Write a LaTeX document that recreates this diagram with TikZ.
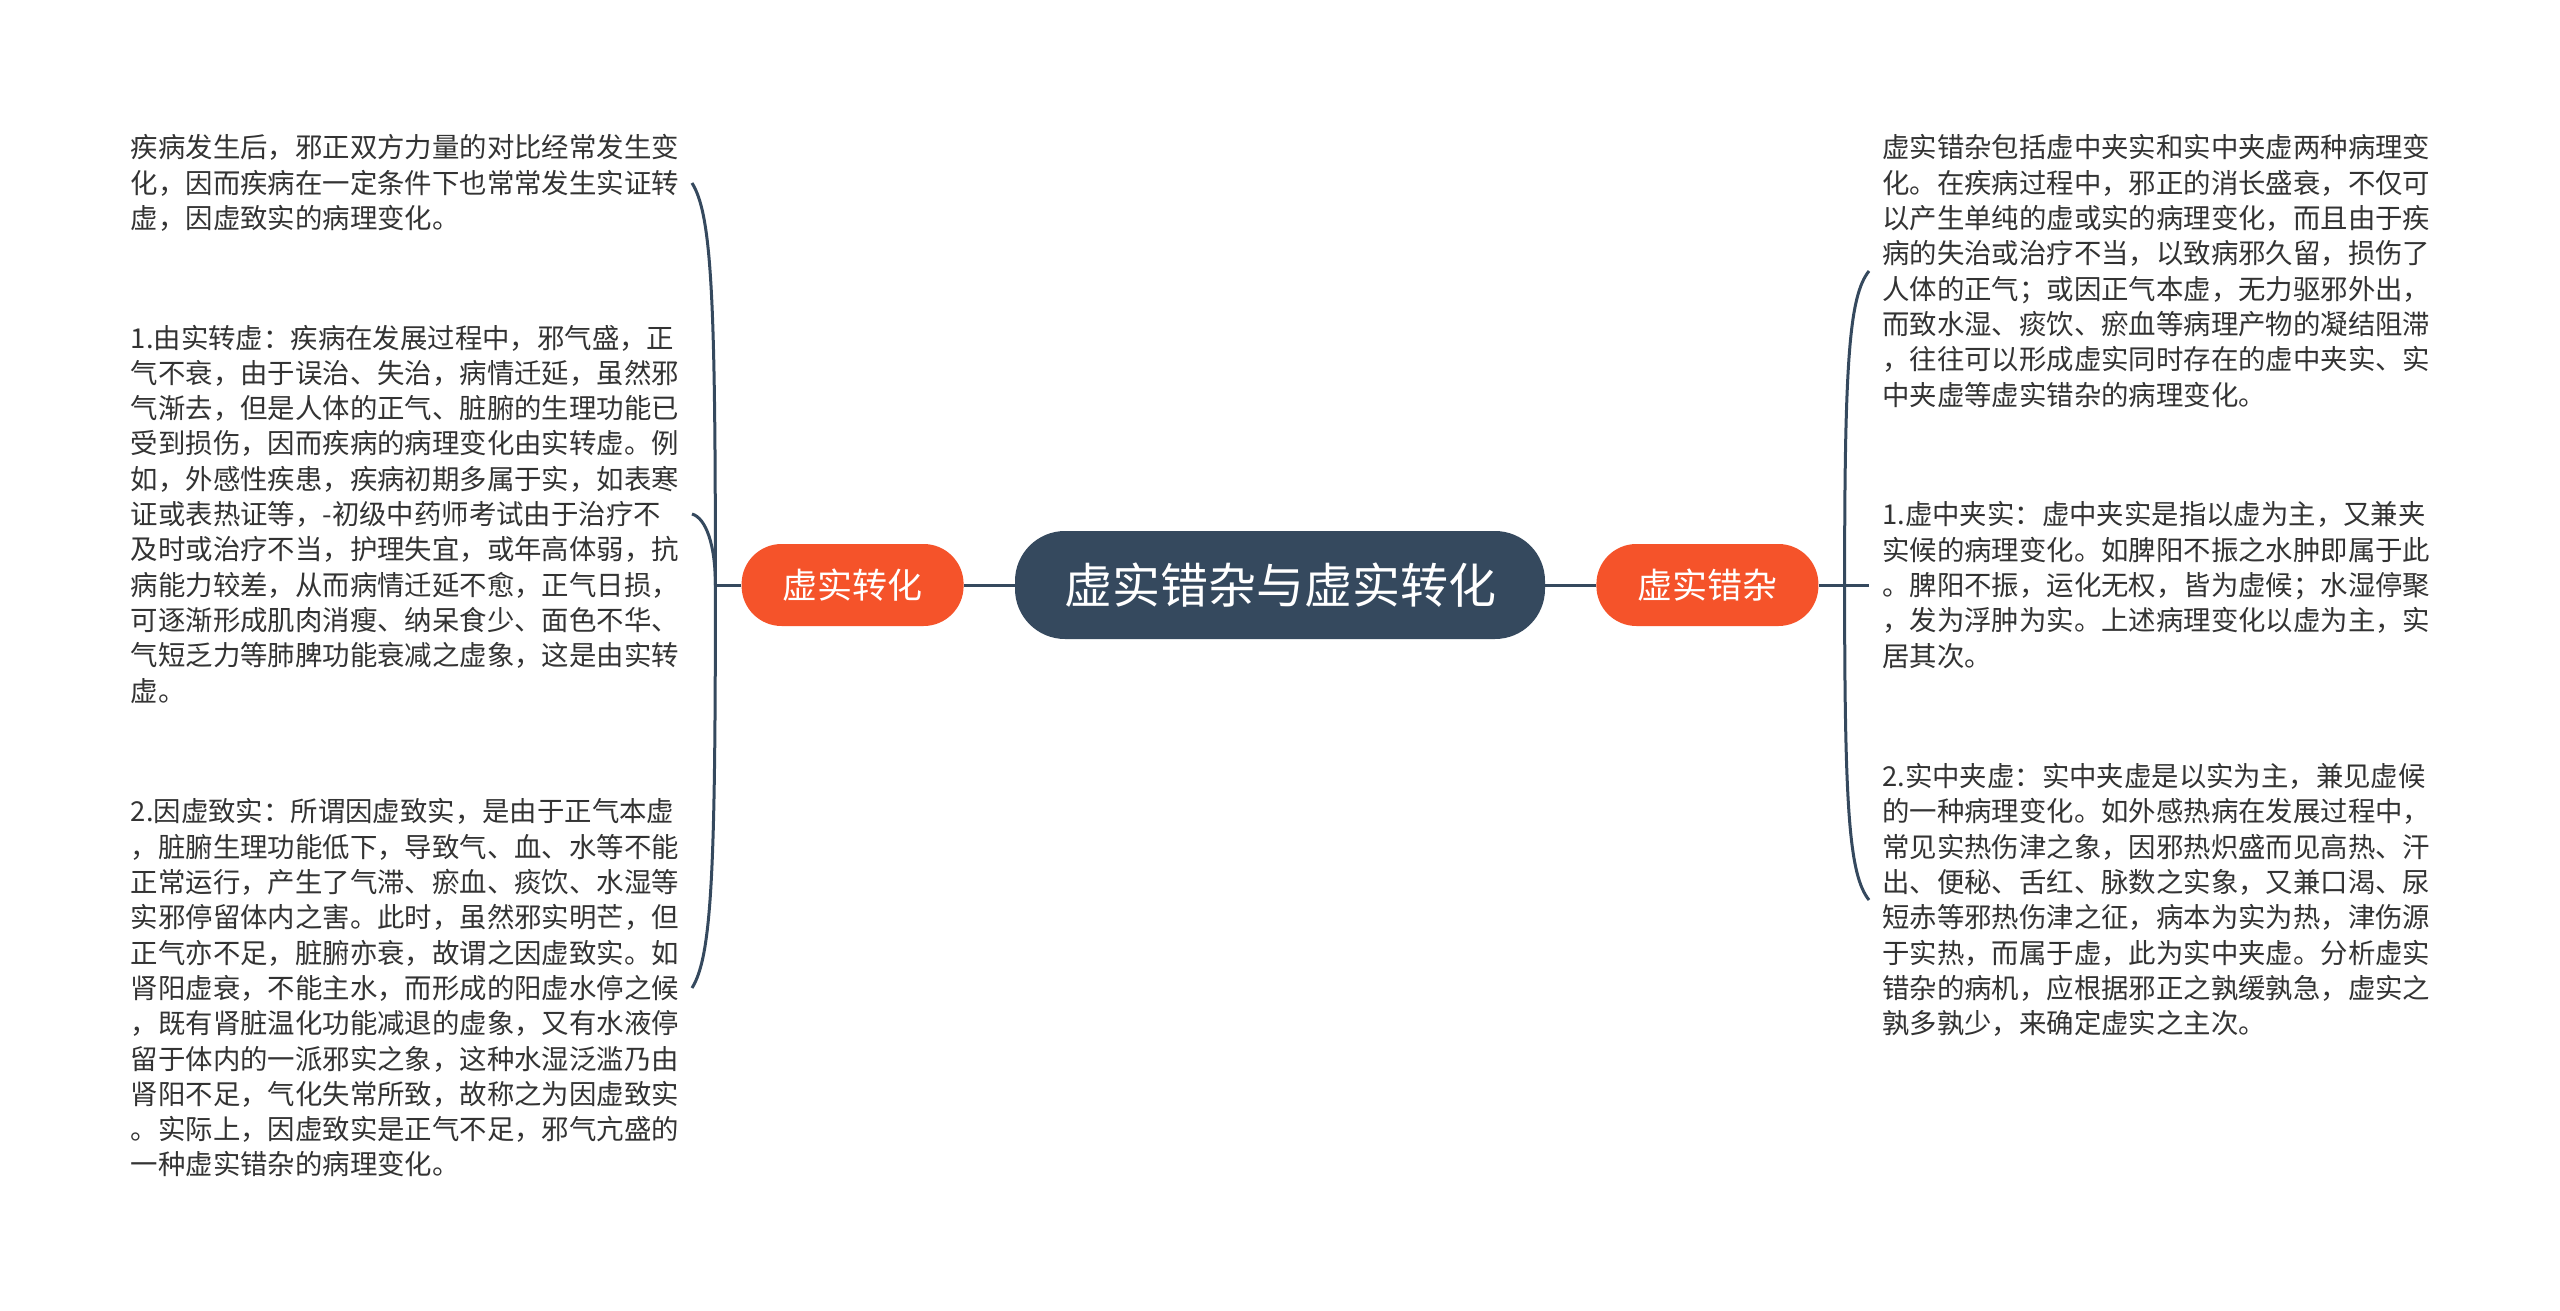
\documentclass[tikz,border=0pt]{standalone}
\usepackage{fontspec}
\setmainfont{Noto Sans CJK SC}
\usepackage{tikz}
\usetikzlibrary{positioning}
\definecolor{xsdark}{RGB}{53,73,94}
\definecolor{xsorange}{RGB}{245,83,42}
\definecolor{xstext}{RGB}{51,51,51}
\tikzset{
  rootbox/.style={
    rectangle, rounded corners=50pt, fill=xsdark, text=white,
    minimum width=530pt, minimum height=108pt,
    font=\fontsize{48}{56}\selectfont
  },
  branchbox/.style={
    rectangle, rounded corners=40pt, fill=xsorange, text=white,
    minimum width=222pt, minimum height=82pt,
    font=\fontsize{35}{42}\selectfont
  },
  leaftext/.style={
    rectangle, inner xsep=13pt, inner ysep=0pt, align=left,
    text=xstext, font=\fontsize{27.4}{35.3}\selectfont
  },
  link/.style={draw=xsdark, line width=3pt}
}

\begin{document}
\begin{tikzpicture}[x=1pt, y=-1pt]
  \fill[white] (0,0) rectangle (2560,1311);
  \useasboundingbox (0,0) rectangle (2560,1311);

  \node[rootbox] (root) at (1280,585) {虚实错杂与虚实转化};
  \node[branchbox, left=51pt of root] (zhuanhua) {虚实转化};
  \node[branchbox, right=51pt of root] (cuoza) {虚实错杂};
  \coordinate[left=26pt of zhuanhua.west] (lj);
  \coordinate[right=26pt of cuoza.east] (rj);

  % left leaves
  \node[leaftext, anchor=east] (lt) at (692,183)
    {疾病发生后，邪正双方力量的对比经常发生变\\
     化，因而疾病在一定条件下也常常发生实证转\\
     虚，因虚致实的病理变化。};
  \node[leaftext, anchor=east] (lm) at (692,514)
    {1.由实转虚：疾病在发展过程中，邪气盛，正\\
     气不衰，由于误治、失治，病情迁延，虽然邪\\
     气渐去，但是人体的正气、脏腑的生理功能已\\
     受到损伤，因而疾病的病理变化由实转虚。例\\
     如，外感性疾患，疾病初期多属于实，如表寒\\
     证或表热证等，-初级中药师考试由于治疗不\\
     及时或治疗不当，护理失宜，或年高体弱，抗\\
     病能力较差，从而病情迁延不愈，正气日损，\\
     可逐渐形成肌肉消瘦、纳呆食少、面色不华、\\
     气短乏力等肺脾功能衰减之虚象，这是由实转\\
     虚。};
  \node[leaftext, anchor=east] (lb) at (692,988)
    {2.因虚致实：所谓因虚致实，是由于正气本虚\\
     ，脏腑生理功能低下，导致气、血、水等不能\\
     正常运行，产生了气滞、瘀血、痰饮、水湿等\\
     实邪停留体内之害。此时，虽然邪实明芒，但\\
     正气亦不足，脏腑亦衰，故谓之因虚致实。如\\
     肾阳虚衰，不能主水，而形成的阳虚水停之候\\
     ，既有肾脏温化功能减退的虚象，又有水液停\\
     留于体内的一派邪实之象，这种水湿泛滥乃由\\
     肾阳不足，气化失常所致，故称之为因虚致实\\
     。实际上，因虚致实是正气不足，邪气亢盛的\\
     一种虚实错杂的病理变化。};

  % right leaves
  \node[leaftext, anchor=west] (rt) at (1869,271)
    {虚实错杂包括虚中夹实和实中夹虚两种病理变\\
     化。在疾病过程中，邪正的消长盛衰，不仅可\\
     以产生单纯的虚或实的病理变化，而且由于疾\\
     病的失治或治疗不当，以致病邪久留，损伤了\\
     人体的正气；或因正气本虚，无力驱邪外出，\\
     而致水湿、痰饮、瘀血等病理产物的凝结阻滞\\
     ，往往可以形成虚实同时存在的虚中夹实、实\\
     中夹虚等虚实错杂的病理变化。};
  \node[leaftext, anchor=west] (rm) at (1869,585)
    {1.虚中夹实：虚中夹实是指以虚为主，又兼夹\\
     实候的病理变化。如脾阳不振之水肿即属于此\\
     。脾阳不振，运化无权，皆为虚候；水湿停聚\\
     ，发为浮肿为实。上述病理变化以虚为主，实\\
     居其次。};
  \node[leaftext, anchor=west] (rb) at (1869,900)
    {2.实中夹虚：实中夹虚是以实为主，兼见虚候\\
     的一种病理变化。如外感热病在发展过程中，\\
     常见实热伤津之象，因邪热炽盛而见高热、汗\\
     出、便秘、舌红、脉数之实象，又兼口渴、尿\\
     短赤等邪热伤津之征，病本为实为热，津伤源\\
     于实热，而属于虚，此为实中夹虚。分析虚实\\
     错杂的病机，应根据邪正之孰缓孰急，虚实之\\
     孰多孰少，来确定虚实之主次。};

  \draw[link] (root.west) -- (zhuanhua.east);
  \draw[link] (root.east) -- (cuoza.west);
  \draw[link] (zhuanhua.west) -- (lj);
  \draw[link] (lj) .. controls +(0,-285) and +(20,32) .. (lt.east);
  \draw[link] (lj) .. controls +(0,-40) and +(14,4) .. (lm.east);
  \draw[link] (lj) .. controls +(0,285) and +(20,-32) .. (lb.east);
  \draw[link] (cuoza.east) -- (rm.west);
  \draw[link] (rj) .. controls +(0,-223) and +(-20,25) .. (rt.west);
  \draw[link] (rj) .. controls +(0,224) and +(-20,-25) .. (rb.west);
\end{tikzpicture}
\end{document}
